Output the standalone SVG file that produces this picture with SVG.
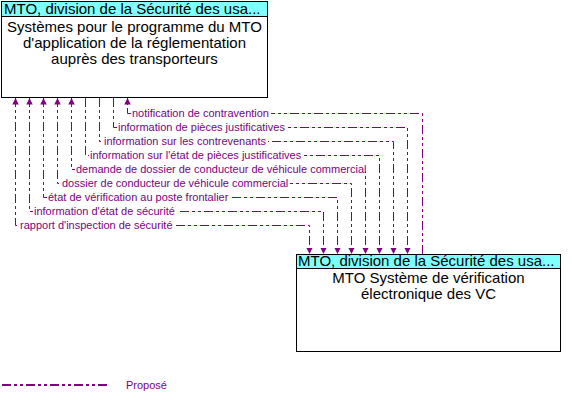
<svg xmlns="http://www.w3.org/2000/svg" width="572" height="405" viewBox="0 0 572 405">
<style>
.box{fill:#fff;stroke:#000;stroke-width:1}
.hdr{fill:#80ffff;stroke:#000;stroke-width:1}
.t{font-family:"Liberation Sans",Arial,sans-serif;font-size:15px;fill:#000}
.c{text-anchor:middle}
.flow{fill:none;stroke:#800080;stroke-width:1;stroke-dasharray:9 3 3 3 3 3}
.bg{fill:#fff;stroke:none}
.lbl{font-family:"Liberation Sans",Arial,sans-serif;font-size:11px;fill:#800080}
.leg{fill:none;stroke:#800080;stroke-width:2;stroke-dasharray:9 3 3 3 3 3}
</style>
<defs>
<marker id="ah" viewBox="0 0 8 8" refX="8" refY="4" markerWidth="6.5" markerHeight="7" markerUnits="userSpaceOnUse" orient="auto-start-reverse">
<path d="M0,0 L8,4 L0,8 z" fill="#800080"/>
</marker>
</defs>
<g id="node-top">
<rect class="box" x="1.5" y="1.5" width="266" height="96"/>
<rect class="hdr" x="1.5" y="1.5" width="266" height="15"/>
<text class="t" x="4" y="14">MTO, division de la Sécurité des usa...</text>
<text class="t c" x="134.5" y="32">Systèmes pour le programme du MTO</text>
<text class="t c" x="134.5" y="48">d'application de la réglementation</text>
<text class="t c" x="134.5" y="64">auprès des transporteurs</text>
</g>
<g id="node-bottom">
<rect class="box" x="296.5" y="254.5" width="264" height="97"/>
<rect class="hdr" x="296.5" y="254.5" width="264" height="14"/>
<text class="t" x="298" y="266">MTO, division de la Sécurité des usa...</text>
<text class="t c" x="428.5" y="283">MTO Système de vérification</text>
<text class="t c" x="428.5" y="299">électronique des VC</text>
</g>
<g id="connectors">
<path class="flow" d="M422.5,254 V113.5 H127.5 V98" marker-end="url(#ah)"/>
<path class="flow" d="M113.5,98 V127.5 H407.5 V254" marker-end="url(#ah)"/>
<path class="flow" d="M99.5,98 V141.5 H393.5 V254" marker-end="url(#ah)"/>
<path class="flow" d="M85.5,98 V155.5 H379.5 V254" marker-end="url(#ah)"/>
<path class="flow" d="M71.5,98 V169.5 H365.5 V254" marker-start="url(#ah)" marker-end="url(#ah)"/>
<path class="flow" d="M57.5,98 V183.5 H351.5 V254" marker-start="url(#ah)" marker-end="url(#ah)"/>
<path class="flow" d="M43.5,98 V197.5 H337.5 V254" marker-start="url(#ah)" marker-end="url(#ah)"/>
<path class="flow" d="M29.5,98 V211.5 H323.5 V254" marker-start="url(#ah)" marker-end="url(#ah)"/>
<path class="flow" d="M15.5,98 V225.5 H309.5 V254" marker-start="url(#ah)" marker-end="url(#ah)"/>
<rect class="bg" x="131" y="111.5" width="140" height="4"/>
<rect class="bg" x="117" y="125.5" width="170" height="4"/>
<rect class="bg" x="103" y="139.5" width="165" height="4"/>
<rect class="bg" x="89" y="153.5" width="214" height="4"/>
<rect class="bg" x="75" y="167.5" width="293" height="4"/>
<rect class="bg" x="61" y="181.5" width="229" height="4"/>
<rect class="bg" x="47" y="195.5" width="183" height="4"/>
<rect class="bg" x="33" y="209.5" width="144" height="4"/>
<rect class="bg" x="19" y="223.5" width="155" height="4"/>
<text class="lbl" x="132" y="117">notification de contravention</text>
<text class="lbl" x="118" y="131">information de pièces justificatives</text>
<text class="lbl" x="104" y="145">information sur les contrevenants</text>
<text class="lbl" x="90" y="159">information sur l'état de pièces justificatives</text>
<text class="lbl" x="76" y="173">demande de dossier de conducteur de véhicule commercial</text>
<text class="lbl" x="62" y="187">dossier de conducteur de véhicule commercial</text>
<text class="lbl" x="48" y="201">état de vérification au poste frontalier</text>
<text class="lbl" x="34" y="215">information d'état de sécurité</text>
<text class="lbl" x="20" y="229">rapport d'inspection de sécurité</text>
</g>
<g id="legend">
<line class="leg" x1="2" y1="385" x2="110" y2="385"/>
<text class="lbl" x="126" y="389">Proposé</text>
</g>
</svg>
